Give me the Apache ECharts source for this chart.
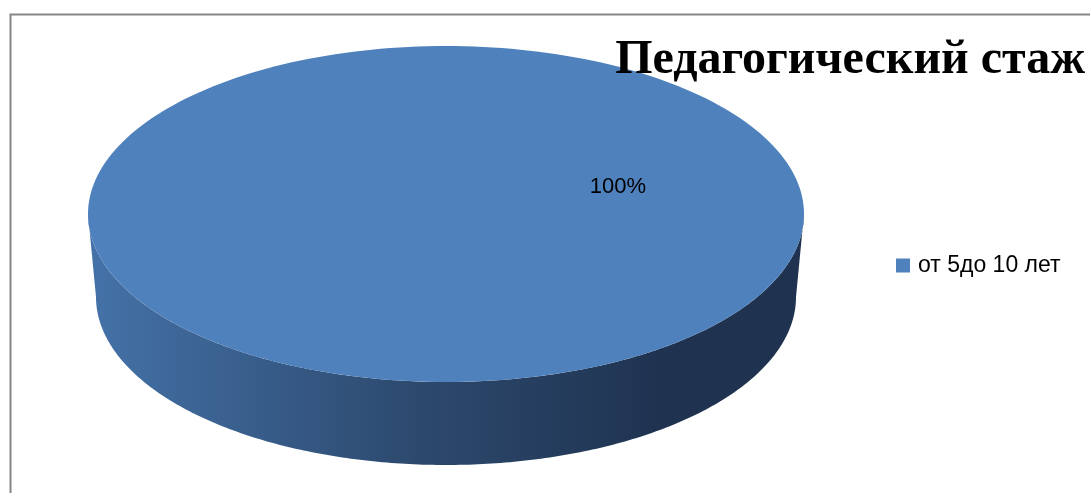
<!DOCTYPE html>
<html>
<head>
<meta charset="utf-8">
<script src="https://cdn.jsdelivr.net/npm/echarts@6/dist/echarts.min.js"></script>
<style>
html,body{margin:0;padding:0;background:#fff;}
#chart{width:1090px;height:493px;}
</style>
</head>
<body>
<div id="chart"></div>
<script>
const titleText = 'Педагогический стаж';
const categories = ['от 5до 10 лет'];
const values = [100];
const sliceColors = ['#4f81bd'];

const chart = echarts.init(document.getElementById('chart'));
const total = values.reduce((a, b) => a + b, 0);

// pie geometry (pixel layout)
const geo = { cx: 446, cy: 214, rx: 358, ry: 168, bcy: 297, brx: 350, bry: 168 };

function ellPt(cx, cy, rx, ry, a) {
  return [cx + rx * Math.sin(a), cy - ry * Math.cos(a)];
}

function makeRender(i) {
  return function (params, api) {
    let before = 0;
    for (let k = 0; k < i; k++) before += values[k];
    const v = api.value(1);
    const a0 = before / total * Math.PI * 2;
    const a1 = (before + v) / total * Math.PI * 2;
    const N = 240;
    const top = [];
    const full = (a1 - a0) >= Math.PI * 2 - 1e-9;
    if (!full) top.push([geo.cx, geo.cy]);
    for (let s = 0; s <= N; s++) {
      const a = a0 + (a1 - a0) * s / N;
      top.push(ellPt(geo.cx, geo.cy, geo.rx, geo.ry, a));
    }
    const lo = Math.max(a0, Math.PI / 2), hi = Math.min(a1, Math.PI * 1.5);
    const children = [];
    if (hi > lo) {
      const side = [];
      for (let s = 0; s <= N; s++) {
        const a = lo + (hi - lo) * s / N;
        side.push(ellPt(geo.cx, geo.cy, geo.rx, geo.ry, a));
      }
      for (let s = N; s >= 0; s--) {
        const a = lo + (hi - lo) * s / N;
        side.push(ellPt(geo.cx, geo.bcy, geo.brx, geo.bry, a));
      }
      children.push({
        type: 'polygon',
        shape: { points: side },
        style: {
          fill: new echarts.graphic.LinearGradient(1, 0, 0, 0, [
            { offset: 0, color: '#1f3350' },
            { offset: 0.2, color: '#1f3350' },
            { offset: 0.55, color: '#2d4a6f' },
            { offset: 1, color: '#4472a8' }
          ])
        }
      });
    }
    children.push({
      type: 'polygon',
      shape: { points: top },
      style: { fill: sliceColors[i % sliceColors.length] }
    });
    children.push({
      type: 'text',
      x: geo.cx + 172,
      y: geo.cy - 27,
      style: {
        text: Math.round(v / total * 100) + '%',
        fill: '#000',
        font: '22px "Liberation Sans", Arial, sans-serif',
        align: 'center',
        verticalAlign: 'middle'
      }
    });
    return { type: 'group', children: children };
  };
}

chart.setOption({
  animation: false,
  graphic: [{
    type: 'rect',
    shape: { x: 10.5, y: 14.5, width: 1200, height: 600 },
    style: { fill: 'none', stroke: '#868686', lineWidth: 2 },
    z: -10
  }],
  title: {
    text: titleText,
    right: 5,
    top: 37,
    padding: 0,
    textStyle: {
      fontFamily: '"Liberation Serif", "Times New Roman", serif',
      fontWeight: 'bold',
      fontSize: 48,
      color: '#000'
    }
  },
  legend: {
    data: categories.map((c, i) => ({ name: c, itemStyle: { color: sliceColors[i] } })),
    left: 896,
    top: 254,
    orient: 'vertical',
    icon: 'rect',
    itemWidth: 14,
    itemHeight: 14,
    itemGap: 8,
    padding: 0,
    textStyle: {
      fontFamily: '"Liberation Sans", Arial, sans-serif',
      fontSize: 23,
      color: '#000',
      padding: [0, 0, 0, 3]
    }
  },
  series: categories.map((c, i) => ({
    type: 'custom',
    name: c,
    coordinateSystem: 'none',
    renderItem: makeRender(i),
    itemStyle: { color: sliceColors[i] },
    data: [[i, values[i]]]
  }))
});
</script>
</body>
</html>
